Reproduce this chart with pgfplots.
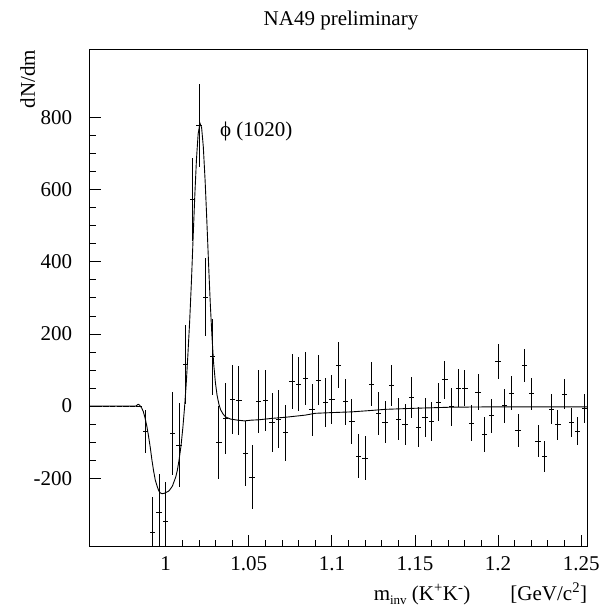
\documentclass[border=0pt]{standalone}
\usepackage{fontspec}
\setmainfont{Liberation Serif}
\usepackage{pgfplots}
\pgfplotsset{compat=1.18}
\usepackage{pgfplotstable}

\pgfplotstableread{
x y ey
0.956 0 0
0.960 0 0
0.964 0 0
0.968 0 0
0.972 0 0
0.976 0 0
0.980 0 0
0.984 0 0
0.988 -71 60
0.992 -350 97
0.996 -296 108
1.000 -321 111
1.004 -76 116
1.008 -108 116
1.012 115 110
1.016 574 115
1.020 778 115
1.024 302 108
1.028 137 105
1.032 -101 100
1.036 -34 98
1.040 18 96
1.044 15 95
1.048 -131 91
1.052 -197 88
1.056 13 87
1.060 15 85
1.064 -45 82
1.068 -36 80
1.072 -74 78
1.076 68 77
1.080 61 75
1.084 77 73
1.088 -10 72
1.092 72 70
1.096 9 68
1.100 18 67
1.104 114 65
1.108 12 64
1.112 -42 63
1.116 -139 61
1.120 -145 61
1.124 60 61
1.128 -21 59
1.132 -44 59
1.136 57 58
1.140 -36 58
1.144 -52 57
1.148 24 56
1.152 -58 55
1.156 -32 55
1.160 -43 54
1.164 11 53
1.168 73 53
1.172 -2 52
1.176 50 52
1.180 50 51
1.184 -48 50
1.188 39 50
1.192 -79 48
1.196 -27 48
1.200 124 48
1.204 1 47
1.208 36 47
1.212 -67 46
1.216 112 46
1.220 34 45
1.224 -97 44
1.228 -140 42
1.232 -8 42
1.236 -52 42
1.240 33 41
1.244 -45 40
1.248 -69 40
1.252 -7 40
}\datatable

\pgfplotstableread{
x y
0.954 0
0.9820 0
0.9828 3
0.9834 5
0.9842 3
0.9855 -5
0.9865 -15
0.9875 -32
0.9886 -55
0.9896 -82
0.9907 -115
0.9917 -150
0.9927 -180
0.9937 -205
0.9948 -222
0.9958 -235
0.9968 -241
0.9978 -243
0.9990 -242
1.0000 -240
1.0020 -235
1.0040 -222
1.0060 -197
1.0070 -178
1.0080 -150
1.0092 -110
1.0103 -60
1.0113 -5
1.0123 60
1.0133 140
1.0144 235
1.0155 350
1.0165 470
1.0175 585
1.0185 685
1.0195 755
1.0206 785
1.0216 772
1.0226 720
1.0237 625
1.0245 540
1.0253 450
1.0260 370
1.0268 285
1.0278 195
1.0288 120
1.0299 65
1.0309 30
1.0320 5
1.0330 -10
1.0345 -22
1.0360 -30
1.0390 -36
1.0433 -39
1.0474 -41
1.0515 -39
1.0560 -38
1.0640 -34
1.0720 -31
1.0840 -25
1.0900 -20
1.1000 -18
1.1120 -16
1.1240 -12
1.1320 -9
1.1500 -6
1.1720 -3
1.2000 -2
1.2540 -2
}\fittable

\begin{document}
\fontsize{21}{25}\selectfont
\begin{tikzpicture}
\useasboundingbox (-89.3pt,-60.3pt) rectangle (513.7pt,546.7pt);
\begin{axis}[
  at={(0pt,0pt)}, anchor=south west,
  scale only axis, width=498.5pt, height=497.5pt,
  xmin=0.954, xmax=1.254, ymin=-390, ymax=990,
  axis line style={line width=0.9pt},
  tick align=inside,
  xtick pos=left, ytick pos=left,
  xtick={1,1.05,1.1,1.15,1.2,1.25},
  xticklabels={1,1.05,1.1,1.15,1.2,1.25},
  ytick={-200,0,200,400,600,800},
  yticklabels={-200,0,200,400,600,800},
  minor x tick num=4, minor y tick num=3,
  major tick length=12pt, minor tick length=6.5pt,
  every tick/.style={black, line width=0.9pt},
  tick label style={font=\fontsize{21}{25}\selectfont},
  xticklabel shift=3pt,
  yticklabel shift=10pt,
  /pgf/number format/assume math mode=true,
]
\addplot[draw=none, mark=none, forget plot,
  error bars/.cd, x dir=both, x fixed=0.0016, y dir=both, y explicit,
  error mark=none, error bar style={draw=black, solid, line width=0.9pt}]
  table[x=x, y=y, y error=ey]{\datatable};
\addplot[black, line width=0.9pt] table[x=x, y=y]{\fittable};
\end{axis}
\node[anchor=base, inner sep=0pt] at (251.7pt, 520.7pt) {NA49 preliminary};
\node[rotate=90, anchor=center, inner sep=0pt] at (-61.7pt, 467.7pt) {dN/dm};
\node[anchor=base east, inner sep=0pt] at (498pt, -53.3pt) {m\raisebox{-4pt}{\fontsize{13}{13}\selectfont inv} (K\textsuperscript{+}K\textsuperscript{-})\hspace{40pt}[GeV/c\textsuperscript{2}]};
\node[anchor=base west, inner sep=0pt] at (130.7pt, 409.7pt) {ϕ (1020)};
\end{tikzpicture}
\end{document}
